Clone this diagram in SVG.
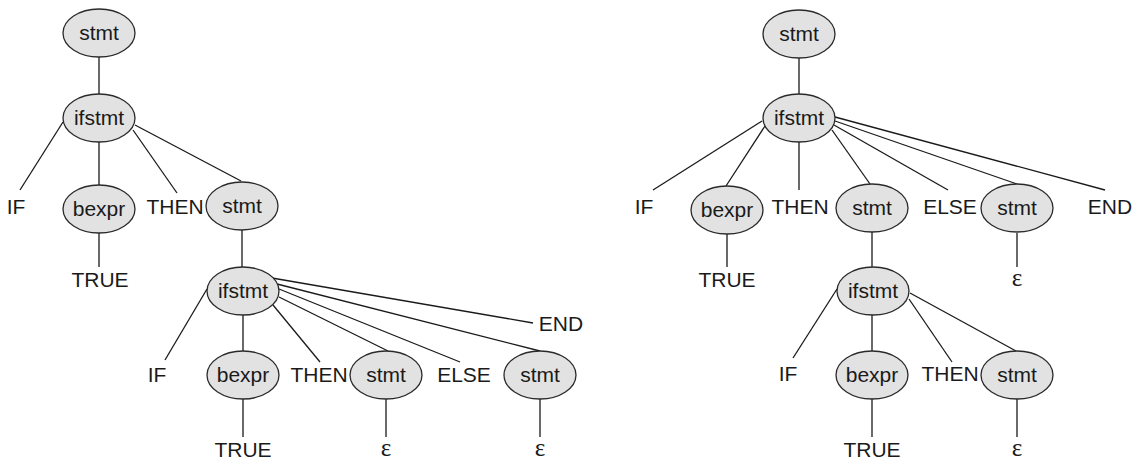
<svg xmlns="http://www.w3.org/2000/svg" width="1134" height="459" viewBox="0 0 1134 459">
<style>
.n{fill:#e2e2e2;stroke:#2a2a2a;stroke-width:1.3}
.t{font-family:"Liberation Sans",Arial,sans-serif;font-size:21px;fill:#1a1a1a;text-anchor:middle}
.g{font-family:"Liberation Serif","Times New Roman",serif;font-size:25px;fill:#1a1a1a;text-anchor:middle}
.e{stroke:#1a1a1a;stroke-width:1.3;fill:none}
</style>
<rect width="1134" height="459" fill="#fff"/>
<g id="connectors">
<line class="e" x1="99" y1="57" x2="99" y2="94"/>
<line class="e" x1="63" y1="122" x2="20" y2="190"/>
<line class="e" x1="99" y1="142" x2="99" y2="185"/>
<line class="e" x1="133" y1="130" x2="177" y2="193"/>
<line class="e" x1="135" y1="125" x2="241" y2="181"/>
<line class="e" x1="99" y1="233" x2="99" y2="267"/>
<line class="e" x1="242" y1="230" x2="242" y2="267"/>
<line class="e" x1="207" y1="289" x2="165" y2="360"/>
<line class="e" x1="243" y1="315" x2="243" y2="351"/>
<line class="e" x1="273" y1="305" x2="320" y2="362"/>
<line class="e" x1="279" y1="297" x2="388" y2="351"/>
<line class="e" x1="279" y1="289" x2="460" y2="362"/>
<line class="e" x1="277" y1="284" x2="540" y2="351"/>
<line class="e" x1="272" y1="278" x2="533" y2="323"/>
<line class="e" x1="243" y1="399" x2="243" y2="437"/>
<line class="e" x1="386" y1="399" x2="386" y2="437"/>
<line class="e" x1="540" y1="399" x2="540" y2="437"/>
<line class="e" x1="799" y1="58" x2="799" y2="94"/>
<line class="e" x1="762" y1="121" x2="653" y2="190"/>
<line class="e" x1="765" y1="126" x2="726" y2="186"/>
<line class="e" x1="799" y1="142" x2="799" y2="190"/>
<line class="e" x1="832" y1="130" x2="870" y2="184"/>
<line class="e" x1="834" y1="125" x2="948" y2="190"/>
<line class="e" x1="835" y1="121" x2="1017" y2="184"/>
<line class="e" x1="835" y1="117" x2="1105" y2="190"/>
<line class="e" x1="727" y1="234" x2="727" y2="267"/>
<line class="e" x1="1017" y1="233" x2="1017" y2="267"/>
<line class="e" x1="872" y1="232" x2="872" y2="267"/>
<line class="e" x1="837" y1="289" x2="793" y2="358"/>
<line class="e" x1="872" y1="315" x2="872" y2="351"/>
<line class="e" x1="909" y1="299" x2="952" y2="362"/>
<line class="e" x1="910" y1="293" x2="1016" y2="351"/>
<line class="e" x1="872" y1="399" x2="872" y2="437"/>
<line class="e" x1="1017" y1="399" x2="1017" y2="437"/>
</g>
<g id="L_root"><ellipse class="n" cx="99" cy="33" rx="36" ry="24"/><text class="t" x="99" y="40">stmt</text></g>
<g id="L_ifstmt1"><ellipse class="n" cx="99" cy="118" rx="36" ry="24"/><text class="t" x="99" y="125">ifstmt</text></g>
<g id="L_IF1"><text class="t" x="16" y="214">IF</text></g>
<g id="L_bexpr1"><ellipse class="n" cx="99" cy="209" rx="36" ry="24"/><text class="t" x="99" y="216">bexpr</text></g>
<g id="L_THEN1"><text class="t" x="175" y="214">THEN</text></g>
<g id="L_stmt1"><ellipse class="n" cx="242" cy="206" rx="36" ry="24"/><text class="t" x="242" y="213">stmt</text></g>
<g id="L_TRUE1"><text class="t" x="100" y="287">TRUE</text></g>
<g id="L_ifstmt2"><ellipse class="n" cx="243" cy="291" rx="36" ry="24"/><text class="t" x="243" y="298">ifstmt</text></g>
<g id="L_IF2"><text class="t" x="157" y="382">IF</text></g>
<g id="L_bexpr2"><ellipse class="n" cx="243" cy="375" rx="36" ry="24"/><text class="t" x="243" y="382">bexpr</text></g>
<g id="L_THEN2"><text class="t" x="319" y="382">THEN</text></g>
<g id="L_stmt2"><ellipse class="n" cx="386" cy="375" rx="36" ry="24"/><text class="t" x="386" y="382">stmt</text></g>
<g id="L_ELSE"><text class="t" x="464" y="382">ELSE</text></g>
<g id="L_stmt3"><ellipse class="n" cx="540" cy="375" rx="36" ry="24"/><text class="t" x="540" y="382">stmt</text></g>
<g id="L_END"><text class="t" x="561" y="331">END</text></g>
<g id="L_TRUE2"><text class="t" x="243" y="457">TRUE</text></g>
<g id="L_eps1"><text class="g" x="386" y="456">ε</text></g>
<g id="L_eps2"><text class="g" x="540" y="456">ε</text></g>
<g id="R_root"><ellipse class="n" cx="799" cy="34" rx="36" ry="24"/><text class="t" x="799" y="41">stmt</text></g>
<g id="R_ifstmt1"><ellipse class="n" cx="799" cy="118" rx="36" ry="24"/><text class="t" x="799" y="125">ifstmt</text></g>
<g id="R_IF1"><text class="t" x="644" y="214">IF</text></g>
<g id="R_bexpr1"><ellipse class="n" cx="727" cy="210" rx="36" ry="24"/><text class="t" x="727" y="217">bexpr</text></g>
<g id="R_THEN1"><text class="t" x="800" y="214">THEN</text></g>
<g id="R_stmt1"><ellipse class="n" cx="872" cy="208" rx="36" ry="24"/><text class="t" x="872" y="215">stmt</text></g>
<g id="R_ELSE"><text class="t" x="950" y="214">ELSE</text></g>
<g id="R_stmt2"><ellipse class="n" cx="1017" cy="208" rx="36" ry="24"/><text class="t" x="1017" y="215">stmt</text></g>
<g id="R_END"><text class="t" x="1110" y="214">END</text></g>
<g id="R_TRUE1"><text class="t" x="727" y="287">TRUE</text></g>
<g id="R_eps1"><text class="g" x="1017" y="286">ε</text></g>
<g id="R_ifstmt2"><ellipse class="n" cx="873" cy="291" rx="36" ry="24"/><text class="t" x="873" y="298">ifstmt</text></g>
<g id="R_IF2"><text class="t" x="788" y="381">IF</text></g>
<g id="R_bexpr2"><ellipse class="n" cx="872" cy="375" rx="36" ry="24"/><text class="t" x="872" y="382">bexpr</text></g>
<g id="R_THEN2"><text class="t" x="950" y="381">THEN</text></g>
<g id="R_stmt3"><ellipse class="n" cx="1017" cy="375" rx="36" ry="24"/><text class="t" x="1017" y="382">stmt</text></g>
<g id="R_TRUE2"><text class="t" x="872" y="457">TRUE</text></g>
<g id="R_eps2"><text class="g" x="1017" y="456">ε</text></g>
</svg>
